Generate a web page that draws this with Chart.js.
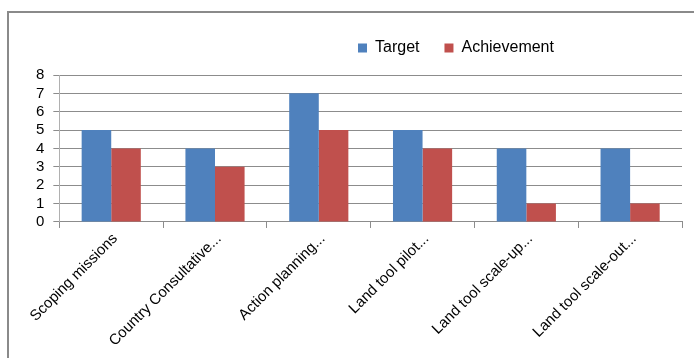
<!DOCTYPE html>
<html>
<head>
<meta charset="utf-8">
<script src="https://cdn.jsdelivr.net/npm/chart.js@4/dist/chart.umd.min.js"></script>
<style>
  html, body { margin: 0; padding: 0; background: #fff; }
  #chart { display: block; }
</style>
</head>
<body>
<canvas id="chart" width="694" height="358"></canvas>
<script>
var categories = ['Scoping missions', 'Country Consultative...', 'Action planning...', 'Land tool pilot...', 'Land tool scale-up...', 'Land tool scale-out...'];
var target = [5, 4, 7, 5, 4, 4];
var achievement = [4, 3, 5, 4, 1, 1];
var yTicks = [0, 1, 2, 3, 4, 5, 6, 7, 8];

var gridGray = '#8c8c8c';

// frame lines like the excel chart border, and nudge the legend to where excel put it
var framePlugin = {
    id: 'frame',
    afterLayout: function(chart) {
        var lg = chart.legend;
        var dx = 333 - lg.left;
        var dy = -9;
        lg.left += dx;
        lg.right += dx;
        lg.top += dy;
        lg.bottom += dy;
    },
    beforeDraw: function(chart) {
        var ctx = chart.ctx;
        ctx.save();
        ctx.strokeStyle = '#8a8a8a';
        ctx.lineWidth = 2;
        ctx.beginPath();
        ctx.moveTo(8, 358);
        ctx.lineTo(8, 12);
        ctx.lineTo(694, 12);
        ctx.stroke();
        ctx.restore();
    }
};

var config = {
    type: 'bar',
    data: {
        labels: categories,
        datasets: [{
            label: 'Target',
            data: target,
            backgroundColor: '#4f81bd',
            categoryPercentage: 0.57,
            barPercentage: 1.0
        }, {
            label: 'Achievement',
            data: achievement,
            backgroundColor: '#c0504d',
            categoryPercentage: 0.57,
            barPercentage: 1.0
        }]
    },
    options: {
        responsive: false,
        animation: false,
        layout: {
            padding: { left: 27, right: 12, top: 24, bottom: 6 }
        },
        plugins: {
            legend: {
                position: 'top',
                align: 'start',
                labels: {
                    boxWidth: 9,
                    boxHeight: 9,
                    padding: 25,
                    color: '#000',
                    font: { family: 'Liberation Sans', size: 16 }
                }
            },
            tooltip: { enabled: false }
        },
        scales: {
            x: {
                grid: {
                    offset: true,
                    drawOnChartArea: false,
                    tickLength: 6,
                    color: gridGray
                },
                border: { color: gridGray },
                ticks: {
                    maxRotation: 45,
                    minRotation: 45,
                    padding: 2,
                    labelOffset: 4,
                    color: '#000',
                    font: { family: 'Liberation Sans', size: 15 }
                }
            },
            y: {
                min: yTicks[0],
                max: yTicks[yTicks.length - 1],
                afterBuildTicks: function(axis) {
                    axis.ticks = yTicks.map(function(v) { return { value: v }; });
                },
                grid: {
                    color: gridGray,
                    tickLength: 6
                },
                border: { color: '#b0b0b0' },
                ticks: {
                    autoSkip: false,
                    padding: 9,
                    color: '#000',
                    font: { family: 'Liberation Sans', size: 15 }
                }
            }
        }
    },
    plugins: [framePlugin]
};

var ctx = document.getElementById('chart');
window.myChart = new Chart(ctx, config);
</script>
</body>
</html>
